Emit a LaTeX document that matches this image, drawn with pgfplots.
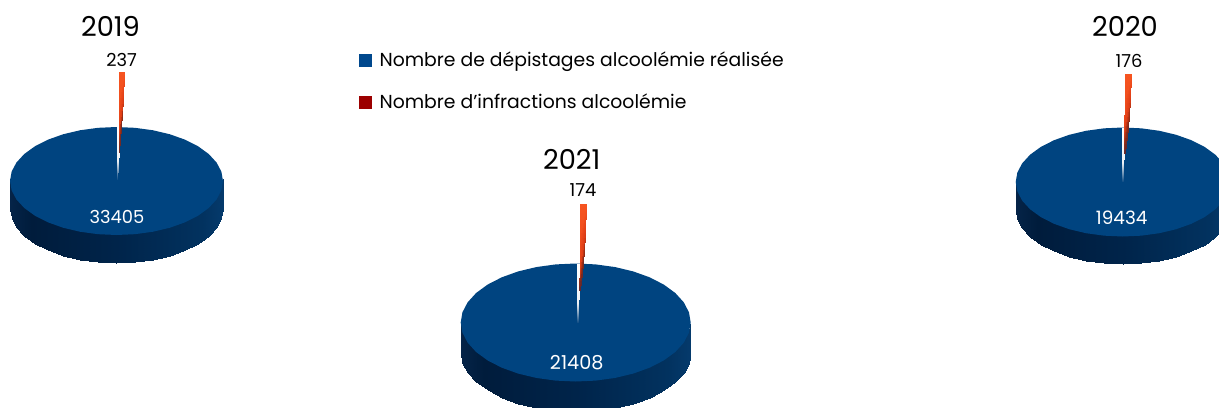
\documentclass[border=0pt]{standalone}
\usepackage{fontspec}
\setmainfont{Poppins}
\usepackage{pgfplots}
\usepgfplotslibrary{patchplots}
\pgfplotsset{compat=1.18}
\usepackage{pgfplotstable}
\definecolor{pieblue}{RGB}{0,68,128}
\definecolor{legblue}{RGB}{0,72,141}
\definecolor{legred}{RGB}{156,0,0}
\pgfplotsset{
  colormap={side}{rgb255(0)=(5,36,72) rgb255(0.1)=(0,28,60) rgb255(0.5)=(0,36,74) rgb255(0.9)=(2,50,95) rgb255(1)=(5,58,108)},
  colormap={wedge}{rgb255(0)=(246,84,32) rgb255(0.4)=(224,62,22) rgb255(0.7)=(150,44,20) rgb255(1)=(90,40,50)},
  colormap={sliver}{rgb255(0)=(255,255,255) rgb255(0.6)=(238,242,246) rgb255(1)=(20,80,135)},
}
% unit circle for the top face
\pgfplotstableread{
c s
1.0000 0.0000
0.9848 0.1736
0.9397 0.3420
0.8660 0.5000
0.7660 0.6428
0.6428 0.7660
0.5000 0.8660
0.3420 0.9397
0.1736 0.9848
0.0000 1.0000
-0.1736 0.9848
-0.3420 0.9397
-0.5000 0.8660
-0.6428 0.7660
-0.7660 0.6428
-0.8660 0.5000
-0.9397 0.3420
-0.9848 0.1736
-1.0000 0.0000
-0.9848 -0.1736
-0.9397 -0.3420
-0.8660 -0.5000
-0.7660 -0.6428
-0.6428 -0.7660
-0.5000 -0.8660
-0.3420 -0.9397
-0.1736 -0.9848
0.0000 -1.0000
0.1736 -0.9848
0.3420 -0.9397
0.5000 -0.8660
0.6428 -0.7660
0.7660 -0.6428
0.8660 -0.5000
0.9397 -0.3420
0.9848 -0.1736
1.0000 0.0000
}\circletable
% front side of the disc
\pgfplotstableread{
c s d m
-1.0000 0.0000 0 0.000
-1.0000 0.0000 1 0.000
-0.9848 0.1736 0 0.008
-0.9848 0.1736 1 0.008
-0.9397 0.3420 0 0.030
-0.9397 0.3420 1 0.030
-0.8660 0.5000 0 0.067
-0.8660 0.5000 1 0.067
-0.7660 0.6428 0 0.117
-0.7660 0.6428 1 0.117
-0.6428 0.7660 0 0.179
-0.6428 0.7660 1 0.179
-0.5000 0.8660 0 0.250
-0.5000 0.8660 1 0.250
-0.3420 0.9397 0 0.329
-0.3420 0.9397 1 0.329
-0.1736 0.9848 0 0.413
-0.1736 0.9848 1 0.413
0.0000 1.0000 0 0.500
0.0000 1.0000 1 0.500
0.1736 0.9848 0 0.587
0.1736 0.9848 1 0.587
0.3420 0.9397 0 0.671
0.3420 0.9397 1 0.671
0.5000 0.8660 0 0.750
0.5000 0.8660 1 0.750
0.6428 0.7660 0 0.821
0.6428 0.7660 1 0.821
0.7660 0.6428 0 0.883
0.7660 0.6428 1 0.883
0.8660 0.5000 0 0.933
0.8660 0.5000 1 0.933
0.9397 0.3420 0 0.970
0.9397 0.3420 1 0.970
0.9848 0.1736 0 0.992
0.9848 0.1736 1 0.992
1.0000 0.0000 0 1.000
1.0000 0.0000 1 1.000
}\sidetable
% cx cy rx ry depth
\newcommand{\drawdisc}[5]{%
  \addplot[surf, shader=interp, colormap name=side, mesh/cols=2, point meta=explicit]
    table[x expr={#1+#3*\thisrow{c}}, y expr={#2+#4*\thisrow{s}+#5*\thisrow{d}-2*(1-\thisrow{d})}, meta=m] {\sidetable};%
  \addplot[fill=pieblue, draw=none]
    table[x expr={#1+#3*\thisrow{c}}, y expr={#2+#4*\thisrow{s}}] {\circletable};%
}
\begin{document}
\begin{tikzpicture}
\begin{axis}[
  width=914.25pt, height=305.25pt, scale only axis,
  xmin=0, xmax=1219, ymin=0, ymax=407, y dir=reverse,
  hide axis,
  point meta min=0, point meta max=1,
  legend style={draw=none, fill=none, font=\fontsize{14.1}{17}\selectfont,
    at={(axis cs:359,49.5)}, anchor=north west, row sep=15pt, inner sep=0pt, outer sep=0pt,
    /tikz/every even column/.append style={column sep=0pt}},
  legend cell align=left,
]
\addlegendimage{legend image code/.code={\fill[legblue] (0pt,-4.5pt) rectangle (9pt,4.5pt);\path (13pt,0pt);}}
\addlegendimage{legend image code/.code={\fill[legred] (0pt,-4.5pt) rectangle (9pt,4.5pt);\path (13pt,0pt);}}

% 2019
\drawdisc{116.5}{181}{106.5}{54}{28}
\addplot[surf, shader=interp, colormap name=sliver, mesh/cols=2, point meta=explicit] table[x=x,y=y,meta=m] {
x y m
116.7 127 0
119.4 127 0
116.9 150 0.35
118.6 150 0.35
116.8 165 0.7
117.6 165 0.7
116.7 179 1
116.9 179 1
};
\addplot[surf, shader=interp, colormap name=wedge, mesh/cols=2, point meta=explicit] table[x=x,y=y,meta=m] {
x y m
118.7 72 0
124.3 72 0
119.0 100 0.1
122.6 100 0.45
119.2 127 0.35
120.9 127 0.85
119.0 152 0.9
119.4 152 1
};
% 2021
\drawdisc{575.7}{322.5}{115}{59}{30}
\addplot[surf, shader=interp, colormap name=sliver, mesh/cols=2, point meta=explicit] table[x=x,y=y,meta=m] {
x y m
576.7 264 0
579.6 264 0
576.9 290 0.35
578.7 290 0.35
577.1 308 0.7
578.0 308 0.7
577.3 322 1
577.5 322 1
};
\addplot[surf, shader=interp, colormap name=wedge, mesh/cols=2, point meta=explicit] table[x=x,y=y,meta=m] {
x y m
579.7 203.5 0
586.3 203.5 0
579.6 235 0.1
584.8 235 0.45
579.6 264 0.35
582.8 264 0.85
579.3 290 0.9
579.8 290 1
};
% 2020
\drawdisc{1122.7}{182}{107}{54.5}{27.5}
\addplot[surf, shader=interp, colormap name=sliver, mesh/cols=2, point meta=explicit] table[x=x,y=y,meta=m] {
x y m
1121.7 128 0
1124.2 128 0
1121.9 151 0.35
1123.5 151 0.35
1122.1 167 0.7
1122.9 167 0.7
1122.3 181 1
1122.5 181 1
};
\addplot[surf, shader=interp, colormap name=wedge, mesh/cols=2, point meta=explicit] table[x=x,y=y,meta=m] {
x y m
1125 73.5 0
1131 73.5 0
1124.6 100 0.1
1129.6 100 0.45
1124.4 128 0.35
1127.6 128 0.85
1124.1 153 0.9
1124.6 153 1
};

\node[font=\fontsize{20.5}{24}\selectfont] at (axis cs:110.5,26) {2019};
\node[font=\fontsize{20.5}{24}\selectfont] at (axis cs:1125,26) {2020};
\node[font=\fontsize{20.5}{24}\selectfont] at (axis cs:571.7,159.5) {2021};
\node[font=\fontsize{13.4}{16}\selectfont] at (axis cs:121.7,60) {237};
\node[font=\fontsize{13.4}{16}\selectfont] at (axis cs:1129,61) {176};
\node[font=\fontsize{13.4}{16}\selectfont] at (axis cs:583,190.5) {174};
\node[font=\fontsize{13.4}{16}\selectfont, text=white] at (axis cs:117,217) {33405};
\node[font=\fontsize{14.4}{16}\selectfont, text=white] at (axis cs:576.7,362.5) {21408};
\node[font=\fontsize{13.8}{16}\selectfont, text=white] at (axis cs:1121.7,218) {19434};
\legend{Nombre de dépistages alcoolémie réalisée, Nombre d\symbol{39}infractions alcoolémie}
\end{axis}
\pgfresetboundingbox
\useasboundingbox (0pt,0pt) rectangle (914.25pt,305.25pt);
\end{tikzpicture}
\end{document}
